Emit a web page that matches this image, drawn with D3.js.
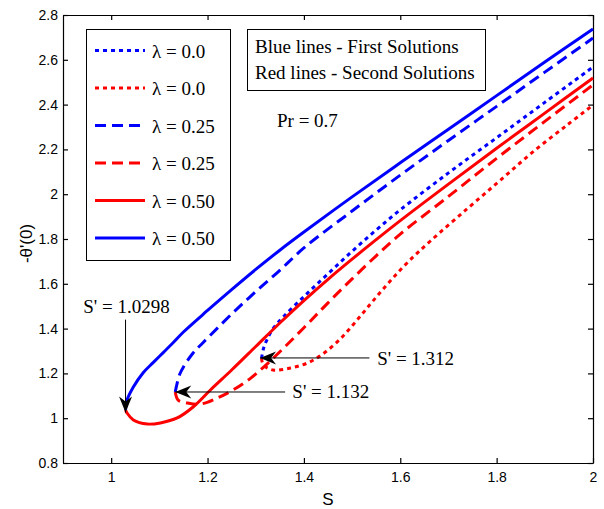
<!DOCTYPE html>
<html>
<head>
<meta charset="utf-8">
<script src="https://cdn.jsdelivr.net/npm/d3@7"></script>
<style>
body { margin: 0; background: #fff; }
</style>
</head>
<body>
<svg id="chart" width="604" height="509"></svg>
<script>
// tick values
var xTicks = [1, 1.2, 1.4, 1.6, 1.8, 2];
var yTicks = [0.8, 1, 1.2, 1.4, 1.6, 1.8, 2, 2.2, 2.4, 2.6, 2.8];

// [S, -theta'(0)]
// lambda = 0.0
var first00 = [[1.312,1.267],[1.316,1.310],[1.323,1.349],[1.336,1.400],[1.357,1.452],[1.400,1.543],[1.450,1.645],[1.500,1.745],[1.550,1.840],[1.600,1.930],[1.700,2.095],[1.800,2.252],[1.900,2.410],[2.0,2.568]];
var second00 = [[1.312,1.267],[1.316,1.238],[1.336,1.215],[1.372,1.224],[1.407,1.246],[1.440,1.288],[1.476,1.355],[1.511,1.440],[1.544,1.525],[1.579,1.612],[1.615,1.695],[1.662,1.790],[1.739,1.935],[1.808,2.063],[1.876,2.190],[1.947,2.310],[2.0,2.398]];
// lambda = 0.25
var first025 = [[1.133,1.117],[1.136,1.148],[1.142,1.195],[1.150,1.229],[1.170,1.291],[1.190,1.336],[1.250,1.465],[1.300,1.565],[1.350,1.660],[1.400,1.760],[1.500,1.925],[1.600,2.085],[1.700,2.240],[1.800,2.392],[1.900,2.545],[2.0,2.697]];
var second025 = [[1.133,1.117],[1.139,1.081],[1.158,1.068],[1.185,1.063],[1.220,1.090],[1.253,1.126],[1.289,1.178],[1.330,1.255],[1.400,1.404],[1.450,1.515],[1.500,1.622],[1.550,1.725],[1.600,1.822],[1.700,1.990],[1.800,2.160],[1.900,2.325],[2.0,2.488]];
// lambda = 0.50
var first050 = [[1.0298,1.037],[1.033,1.081],[1.046,1.139],[1.066,1.202],[1.087,1.248],[1.108,1.293],[1.129,1.338],[1.150,1.385],[1.200,1.481],[1.250,1.574],[1.300,1.664],[1.350,1.750],[1.400,1.831],[1.500,1.988],[1.600,2.140],[1.700,2.290],[1.800,2.440],[1.900,2.590],[2.0,2.737]];
var second050 = [[1.0298,1.037],[1.033,1.023],[1.046,0.992],[1.075,0.974],[1.102,0.979],[1.137,1.001],[1.170,1.050],[1.206,1.126],[1.250,1.215],[1.300,1.320],[1.350,1.425],[1.400,1.525],[1.450,1.620],[1.500,1.710],[1.550,1.797],[1.600,1.882],[1.700,2.045],[1.800,2.205],[1.900,2.362],[2.0,2.519]];

var legendLabels = ["\u03bb = 0.0", "\u03bb = 0.0", "\u03bb = 0.25", "\u03bb = 0.25", "\u03bb = 0.50", "\u03bb = 0.50"];

var series = [
  {data: first00, color: "#0000ff", dash: "4,4"},
  {data: second00, color: "#ff0000", dash: "4,4"},
  {data: first025, color: "#0000ff", dash: "11,6"},
  {data: second025, color: "#ff0000", dash: "11,6"},
  {data: second050, color: "#ff0000", dash: null},
  {data: first050, color: "#0000ff", dash: null}
];

var annotations = [
  {label: "S' = 1.0298", tip: [1.0298, 1.025], tail: [1.0298, 1.44], at: [0.942, 1.47]},
  {label: "S' = 1.312", tip: [1.309, 1.269], tail: [1.536, 1.269], at: [1.552, 1.238]},
  {label: "S' = 1.132", tip: [1.133, 1.117], tail: [1.361, 1.117], at: [1.376, 1.09]}
];

var svg = d3.select("#chart");
var margin = {left: 63, top: 15, right: 11, bottom: 46};
var w = 604 - margin.left - margin.right;
var h = 509 - margin.top - margin.bottom;

var x = d3.scaleLinear().domain([0.9, 2]).range([0, w]);
var y = d3.scaleLinear().domain([0.8, 2.8]).range([h, 0]);

var g = svg.append("g").attr("transform", "translate(" + margin.left + "," + margin.top + ")");

var serif = "'Liberation Serif','Times New Roman',Times,serif";
var sans = "'Liberation Sans',Arial,Helvetica,sans-serif";

// axes, ticks pointing inward
var ax = g.append("g").attr("transform", "translate(0," + h + ")")
  .call(d3.axisBottom(x).tickValues(xTicks).tickSizeInner(-5).tickSizeOuter(0).tickPadding(9).tickFormat(d3.format("~g")));
var ay = g.append("g")
  .call(d3.axisLeft(y).tickValues(yTicks).tickSizeInner(-5).tickSizeOuter(0).tickPadding(5).tickFormat(d3.format("~g")));
g.append("g")
  .call(d3.axisTop(x).tickValues(xTicks).tickSizeInner(-5).tickSizeOuter(0).tickFormat(""));
g.append("g").attr("transform", "translate(" + w + ",0)")
  .call(d3.axisRight(y).tickValues(yTicks).tickSizeInner(-5).tickSizeOuter(0).tickFormat(""));

g.selectAll(".domain, .tick line").attr("stroke", "#000").attr("stroke-width", 1.2);
[ax, ay].forEach(function(a){
  a.selectAll("text").attr("font-family", sans).attr("font-size", 14).attr("fill", "#000");
});

// curves
var line = d3.line()
  .x(function(d){ return x(d[0]); })
  .y(function(d){ return y(d[1]); })
  .curve(d3.curveCatmullRom.alpha(0.5));

g.selectAll("path.curve")
  .data(series)
  .enter()
  .append("path")
  .attr("class", "curve")
  .attr("d", function(d){ return line(d.data); })
  .attr("fill", "none")
  .attr("stroke", function(d){ return d.color; })
  .attr("stroke-width", 3)
  .attr("stroke-dasharray", function(d){ return d.dash; });

// annotations with arrows
var ann = g.selectAll("g.ann").data(annotations).enter().append("g").attr("class", "ann");
ann.append("line")
  .attr("x1", function(d){ return x(d.tail[0]); })
  .attr("y1", function(d){ return y(d.tail[1]); })
  .attr("x2", function(d){ return x(d.tip[0]); })
  .attr("y2", function(d){ return y(d.tip[1]); })
  .attr("stroke", "#000").attr("stroke-width", 1);
ann.append("path")
  .attr("d", "M0,0L-16,-6.5L-11,0L-16,6.5Z")
  .attr("fill", "#000")
  .attr("transform", function(d){
    var dx = x(d.tip[0]) - x(d.tail[0]), dy = y(d.tip[1]) - y(d.tail[1]);
    var ang = Math.atan2(dy, dx) * 180 / Math.PI;
    return "translate(" + x(d.tip[0]) + "," + y(d.tip[1]) + ") rotate(" + ang + ")";
  });
ann.append("text")
  .attr("x", function(d){ return x(d.at[0]); })
  .attr("y", function(d){ return y(d.at[1]); })
  .attr("font-family", serif).attr("font-size", 19)
  .text(function(d){ return d.label; });

// legend
var leg = svg.append("g");
leg.append("rect").attr("x", 86.5).attr("y", 29.5).attr("width", 144).attr("height", 231)
  .attr("fill", "#fff").attr("stroke", "#000").attr("stroke-width", 1);
var items = leg.selectAll("g.item").data(series).enter().append("g")
  .attr("transform", function(d, i){ return "translate(95," + (50.5 + i * 37.5) + ")"; });
items.append("line").attr("x1", 0).attr("x2", 50).attr("y1", 0).attr("y2", 0)
  .attr("stroke", function(d){ return d.color; })
  .attr("stroke-width", 3)
  .attr("stroke-dasharray", function(d){ return d.dash; });
items.append("text").attr("x", 57).attr("y", 7)
  .attr("font-family", serif).attr("font-size", 19)
  .text(function(d, i){ return legendLabels[i]; });

// note box
var note = svg.append("g");
note.append("rect").attr("x", 247.5).attr("y", 29.5).attr("width", 238).attr("height", 61)
  .attr("fill", "#fff").attr("stroke", "#000").attr("stroke-width", 1);
note.append("text").attr("x", 255).attr("y", 53).attr("font-family", serif).attr("font-size", 19)
  .text("Blue lines - First Solutions");
note.append("text").attr("x", 255).attr("y", 79).attr("font-family", serif).attr("font-size", 19)
  .text("Red lines - Second Solutions");
svg.append("text").attr("x", 277).attr("y", 127).attr("font-family", serif).attr("font-size", 19)
  .text("Pr = 0.7");

// axis titles
svg.append("text").attr("x", margin.left + x(1.45)).attr("y", 505)
  .attr("text-anchor", "middle").attr("font-family", sans).attr("font-size", 17).text("S");
svg.append("text").attr("transform", "translate(32," + (margin.top + y(1.78)) + ") rotate(-90)")
  .attr("text-anchor", "middle").attr("font-family", sans).attr("font-size", 17).text("-\u03b8'(0)");
</script>
</body>
</html>
